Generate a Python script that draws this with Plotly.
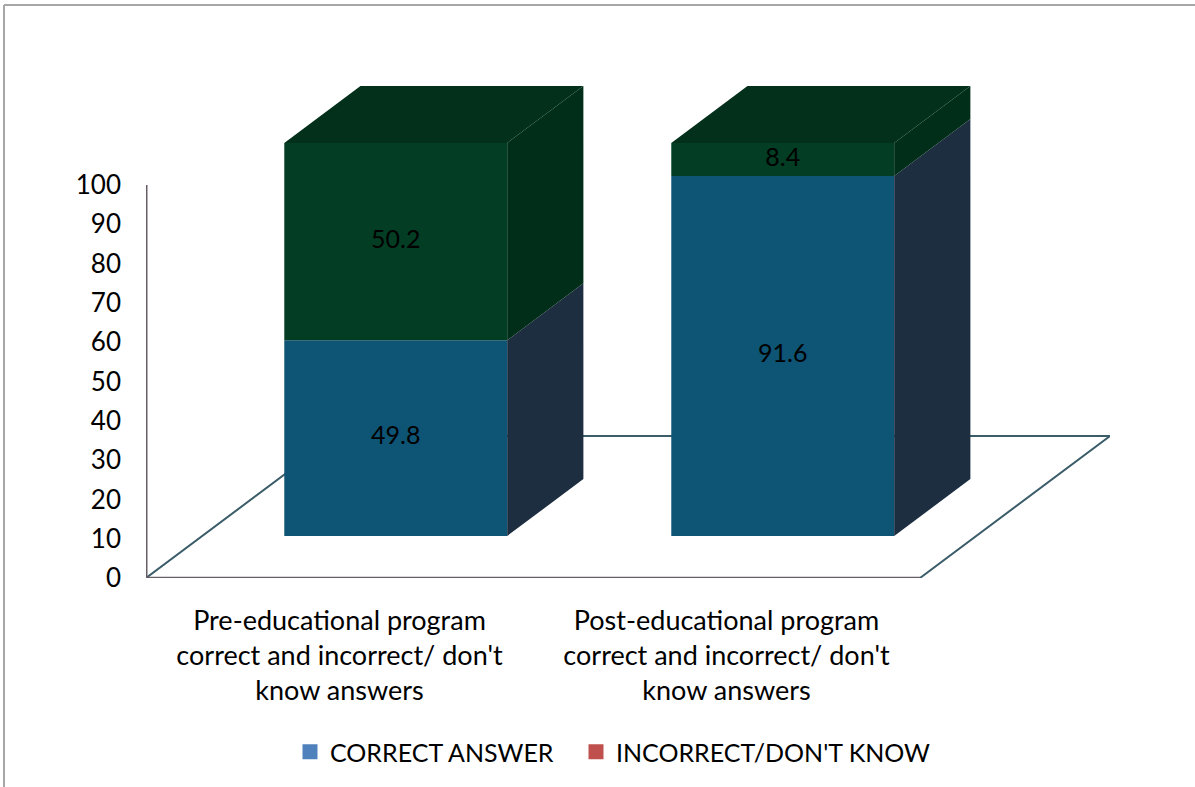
import plotly.graph_objects as go

# ---------------- data ----------------
categories = [
    "Pre-educational program<br>correct and incorrect/ don't<br>know answers",
    "Post-educational program<br>correct and incorrect/ don't<br>know answers",
]
correct = [49.8, 91.6]
incorrect = [50.2, 8.4]
series_names = ["CORRECT ANSWER", "INCORRECT/DON'T KNOW"]
y_ticks = [0, 10, 20, 30, 40, 50, 60, 70, 80, 90, 100]

# ---------------- style / geometry ----------------
FONT = "Lato"
W, H = 1195, 787
ML, MR, MT, MB = 146, 85, 60, 209
PX_PER_X = 387.0
PX_PER_Y = 3.93
plot_w = W - ML - MR
plot_h = H - MT - MB
x_range = [-0.5, -0.5 + plot_w / PX_PER_X]
y_range = [0, plot_h / PX_PER_Y]

# floor depth (in data units)
DX = 190 / PX_PER_X
DY = 142 / PX_PER_Y
F0, F1 = 0.296, 0.697          # bar front / back depth fraction
ox0, oy0 = F0 * DX, F0 * DY
ddx, ddy = (F1 - F0) * DX, (F1 - F0) * DY
BAR_W = 0.576

front_cols = ["#0e5475", "#023d24"]
side_cols = ["#1d2e40", "#012e19"]
top_col = "#02301b"
legend_cols = ["#4f81bd", "#c0504d"]
legend_px = [290, 576]
floor_line = "#3b5d69"
axis_line = "#665e66"

fig = go.Figure()

xs = list(range(len(categories)))
series = [correct, incorrect]
x_end = -0.5 + len(categories)

# floor (drawn below all traces)
fx = [-0.5, x_end, x_end + DX, -0.5 + DX]
fy = [0, 0, DY, DY]
path = "M " + " L ".join(f"{a},{b}" for a, b in zip(fx, fy)) + " Z"
fig.add_shape(type="path", path=path, xref="x", yref="y", layer="below",
              fillcolor="white", line=dict(color=floor_line, width=2))
fig.add_shape(type="line", xref="x", yref="y", x0=-0.5, x1=x_end, y0=0, y1=0,
              layer="below", line=dict(color=axis_line, width=2.5))

# 3D bars: side and top faces
for i, c in enumerate(xs):
    base = 0.0
    xl = c - BAR_W / 2 + ox0
    xr = c + BAR_W / 2 + ox0
    for s, vals in enumerate(series):
        v = vals[i]
        yb = oy0 + base
        yt = yb + v
        fig.add_trace(go.Scatter(
            x=[xr, xr + ddx, xr + ddx, xr, xr],
            y=[yb, yb + ddy, yt + ddy, yt, yb],
            mode="lines", fill="toself", fillcolor=side_cols[s],
            line=dict(width=0, color=side_cols[s]), hoverinfo="skip", showlegend=False))
        base += v
    yt = oy0 + base
    fig.add_trace(go.Scatter(
        x=[xl, xl + ddx, xr + ddx, xr, xl],
        y=[yt, yt + ddy, yt + ddy, yt, yt],
        mode="lines", fill="toself", fillcolor=top_col,
        line=dict(width=0, color=top_col), hoverinfo="skip", showlegend=False))

# front faces (real bars)
bases = [
    [oy0 for _ in correct],
    [oy0 + v for v in correct],
]
for s, vals in enumerate(series):
    fig.add_trace(go.Bar(
        x=[c + ox0 for c in xs], y=vals, base=bases[s], width=BAR_W,
        marker=dict(color=front_cols[s], line=dict(width=0)),
        showlegend=False, hoverinfo="skip"))
    fig.add_trace(go.Scatter(
        x=[c + ox0 for c in xs], y=[b + v / 2 for b, v in zip(bases[s], vals)],
        mode="text", text=[f"{v:.1f}" for v in vals],
        textfont=dict(family=FONT, size=25, color="black"),
        hoverinfo="skip", showlegend=False))

# legend entries (one legend box per series)
legend_ids = ["legend", "legend2"]
for s, name in enumerate(series_names):
    fig.add_trace(go.Scatter(x=[None], y=[None], name=name, mode="markers",
                             legend=legend_ids[s],
                             marker=dict(symbol="square", size=15, color=legend_cols[s])))

# y-axis line (0..100)
fig.add_shape(type="line", xref="x", yref="y", x0=-0.5, x1=-0.5, y0=0, y1=y_ticks[-1],
              line=dict(color=axis_line, width=3))

# outer border (top + left)
fig.add_shape(type="line", xref="paper", yref="paper",
              x0=(4 - ML) / plot_w, x1=(W + 5 - ML) / plot_w,
              y0=(H - MB - 5) / plot_h, y1=(H - MB - 5) / plot_h,
              line=dict(color="#a6a6a6", width=2))
fig.add_shape(type="line", xref="paper", yref="paper",
              x0=(4 - ML) / plot_w, x1=(4 - ML) / plot_w,
              y0=(H - MB - 5) / plot_h, y1=(-MB - 5) / plot_h,
              line=dict(color="#a6a6a6", width=2))

legend_common = dict(orientation="h", yanchor="middle", xanchor="left",
                     y=(H - MB - 752) / plot_h,
                     font=dict(family=FONT, size=25, color="black"),
                     itemwidth=30, itemsizing="trace", bgcolor="rgba(0,0,0,0)")

fig.update_layout(
    width=W, height=H,
    margin=dict(l=ML, r=MR, t=MT, b=MB, pad=0),
    paper_bgcolor="white", plot_bgcolor="rgba(0,0,0,0)",
    barmode="overlay",
    font=dict(family=FONT, size=26, color="black"),
    xaxis=dict(range=x_range, tickvals=xs, ticktext=categories, showgrid=False,
               zeroline=False, showline=False, ticks="", ticklabelstandoff=24,
               tickfont=dict(family=FONT, size=27, color="black"), fixedrange=True),
    yaxis=dict(range=y_range, tickvals=y_ticks, showgrid=False, zeroline=False,
               showline=False, ticks="", ticklabelstandoff=24,
               tickfont=dict(family=FONT, size=26, color="black"), fixedrange=True),
    legend=dict(x=(legend_px[0] - ML) / plot_w, **legend_common),
    legend2=dict(x=(legend_px[1] - ML) / plot_w, **legend_common),
    showlegend=True,
)

fig.write_html("out.html")
